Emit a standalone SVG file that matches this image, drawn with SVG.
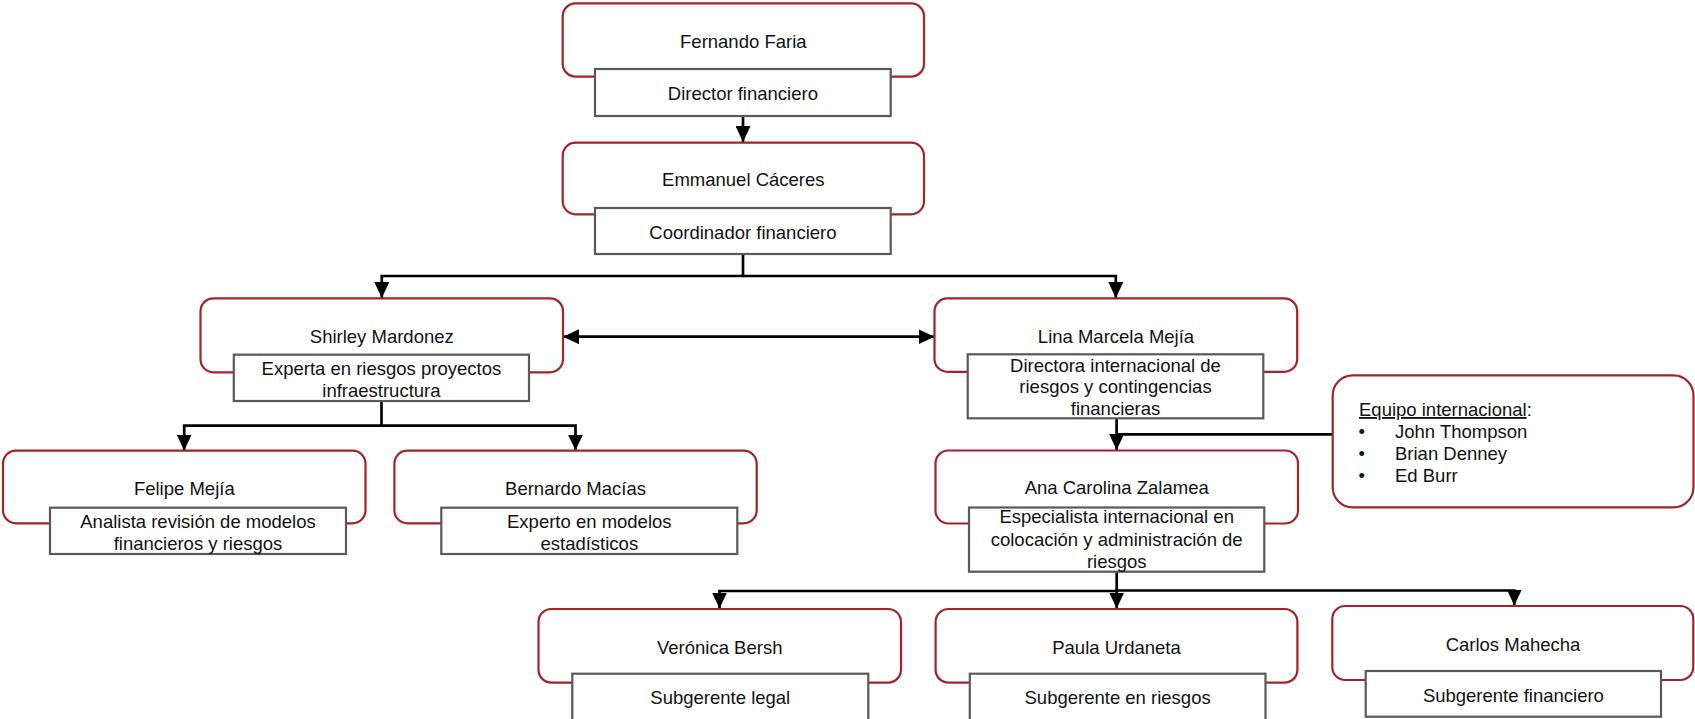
<svg xmlns="http://www.w3.org/2000/svg" width="1695" height="719" viewBox="0 0 1695 719">
<defs>
<style>
.box{fill:#fff;stroke:#A3232B;stroke-width:2.2}
.title{fill:#fff;stroke:#595959;stroke-width:2.2}
text{font-family:"Liberation Sans",Arial,sans-serif;font-size:18.5px;fill:#111;text-anchor:middle}
.conn{fill:none;stroke:#000;stroke-width:2.7}
.left{text-anchor:start}
</style>
<marker id="arr" markerUnits="userSpaceOnUse" markerWidth="17" markerHeight="15" viewBox="0 0 17 15" refX="16" refY="7.5" orient="auto-start-reverse">
<path d="M0,0 L16,7.5 L0,15 z" fill="#000"/>
</marker>
</defs>
<rect width="1695" height="719" fill="#fff"/>

<g id="connectors">
<path class="conn" d="M743,116 V142" marker-end="url(#arr)"/>
<path class="conn" d="M743,254 V276 H381.8 V298" marker-end="url(#arr)"/>
<path class="conn" d="M743,276 H1115.8 V298" marker-end="url(#arr)"/>
<path class="conn" d="M563,336.7 H934.5" marker-start="url(#arr)" marker-end="url(#arr)"/>
<path class="conn" d="M381.5,401 V425.7 H184.2 V450.5" marker-end="url(#arr)"/>
<path class="conn" d="M381.5,425.7 H575.5 V450.5" marker-end="url(#arr)"/>
<path class="conn" d="M1116.6,418.3 V450" marker-end="url(#arr)"/>
<path class="conn" d="M1332.7,434.3 H1116.6"/>
<path class="conn" d="M1116.7,571.7 V591 H719.5 V608.5" marker-end="url(#arr)"/>
<path class="conn" d="M1116.7,591 V608.5" marker-end="url(#arr)"/>
<path class="conn" d="M1116.7,590.5 H1514.3 V605.5" marker-end="url(#arr)"/>
</g>

<g id="fernando">
<rect class="box" x="562.7" y="3.3" width="361.3" height="73.4" rx="13"/>
<rect class="title" x="595" y="69" width="295.7" height="47"/>
<text x="743.3" y="48.3">Fernando Faria</text>
<text x="742.9" y="100">Director financiero</text>
</g>

<g id="emmanuel">
<rect class="box" x="562.7" y="142.7" width="361.3" height="71.6" rx="13"/>
<rect class="title" x="595" y="208" width="295.7" height="46"/>
<text x="743.3" y="186">Emmanuel Cáceres</text>
<text x="742.9" y="238.5">Coordinador financiero</text>
</g>

<g id="shirley">
<rect class="box" x="200.5" y="298.3" width="362.5" height="74" rx="13"/>
<rect class="title" x="233.8" y="354.7" width="295.2" height="46.3"/>
<text x="381.8" y="343.3">Shirley Mardonez</text>
<text x="381.4" y="375">Experta en riesgos proyectos</text>
<text x="381.4" y="396.8">infraestructura</text>
</g>

<g id="lina">
<rect class="box" x="934.5" y="298.3" width="362.7" height="73.6" rx="13"/>
<rect class="title" x="967.7" y="354.3" width="295.6" height="64"/>
<text x="1116" y="343.3">Lina Marcela Mejía</text>
<text x="1115.5" y="371.7">Directora internacional de</text>
<text x="1115.5" y="393.4">riesgos y contingencias</text>
<text x="1115.5" y="415.1">financieras</text>
</g>

<g id="felipe">
<rect class="box" x="3" y="450.7" width="362.5" height="72.6" rx="13"/>
<rect class="title" x="50" y="507.7" width="296" height="46.3"/>
<text x="184.3" y="495.3">Felipe Mejía</text>
<text x="198" y="527.5">Analista revisión de modelos</text>
<text x="198" y="549.5">financieros y riesgos</text>
</g>

<g id="bernardo">
<rect class="box" x="394.4" y="450.7" width="362.3" height="72.6" rx="13"/>
<rect class="title" x="441.3" y="507.7" width="296" height="46.3"/>
<text x="575.5" y="495.3">Bernardo Macías</text>
<text x="589.3" y="527.5">Experto en modelos</text>
<text x="589.3" y="549.5">estadísticos</text>
</g>

<g id="ana">
<rect class="box" x="935.5" y="450.5" width="362.5" height="73" rx="13"/>
<rect class="title" x="969" y="507.5" width="295.3" height="64.2"/>
<text x="1116.7" y="494">Ana Carolina Zalamea</text>
<text x="1116.7" y="523.3">Especialista internacional en</text>
<text x="1116.7" y="545.7">colocación y administración de</text>
<text x="1116.7" y="567.9">riesgos</text>
</g>

<g id="equipo">
<rect class="box" x="1332.7" y="375.3" width="360.8" height="132" rx="20"/>
<text class="left" x="1359" y="416"><tspan text-decoration="underline">Equipo internacional</tspan>:</text>
<text x="1361.7" y="437.7">•</text>
<text class="left" x="1395" y="437.7">John Thompson</text>
<text x="1361.7" y="460">•</text>
<text class="left" x="1395" y="460">Brian Denney</text>
<text x="1361.7" y="482.3">•</text>
<text class="left" x="1395" y="482.3">Ed Burr</text>
</g>

<g id="veronica">
<rect class="box" x="538.5" y="609" width="362.5" height="73.7" rx="13"/>
<rect class="title" x="572.3" y="673.7" width="296" height="47"/>
<text x="719.7" y="653.5">Verónica Bersh</text>
<text x="720.3" y="704">Subgerente legal</text>
</g>

<g id="paula">
<rect class="box" x="935.6" y="609" width="361.8" height="73.7" rx="13"/>
<rect class="title" x="969.8" y="673.7" width="295.7" height="47"/>
<text x="1116.5" y="653.5">Paula Urdaneta</text>
<text x="1117.6" y="704">Subgerente en riesgos</text>
</g>

<g id="carlos">
<rect class="box" x="1332.3" y="606" width="361" height="74" rx="13"/>
<rect class="title" x="1365.7" y="671" width="295.3" height="45.7"/>
<text x="1513" y="650.7">Carlos Mahecha</text>
<text x="1513.4" y="701.7">Subgerente financiero</text>
</g>
</svg>
